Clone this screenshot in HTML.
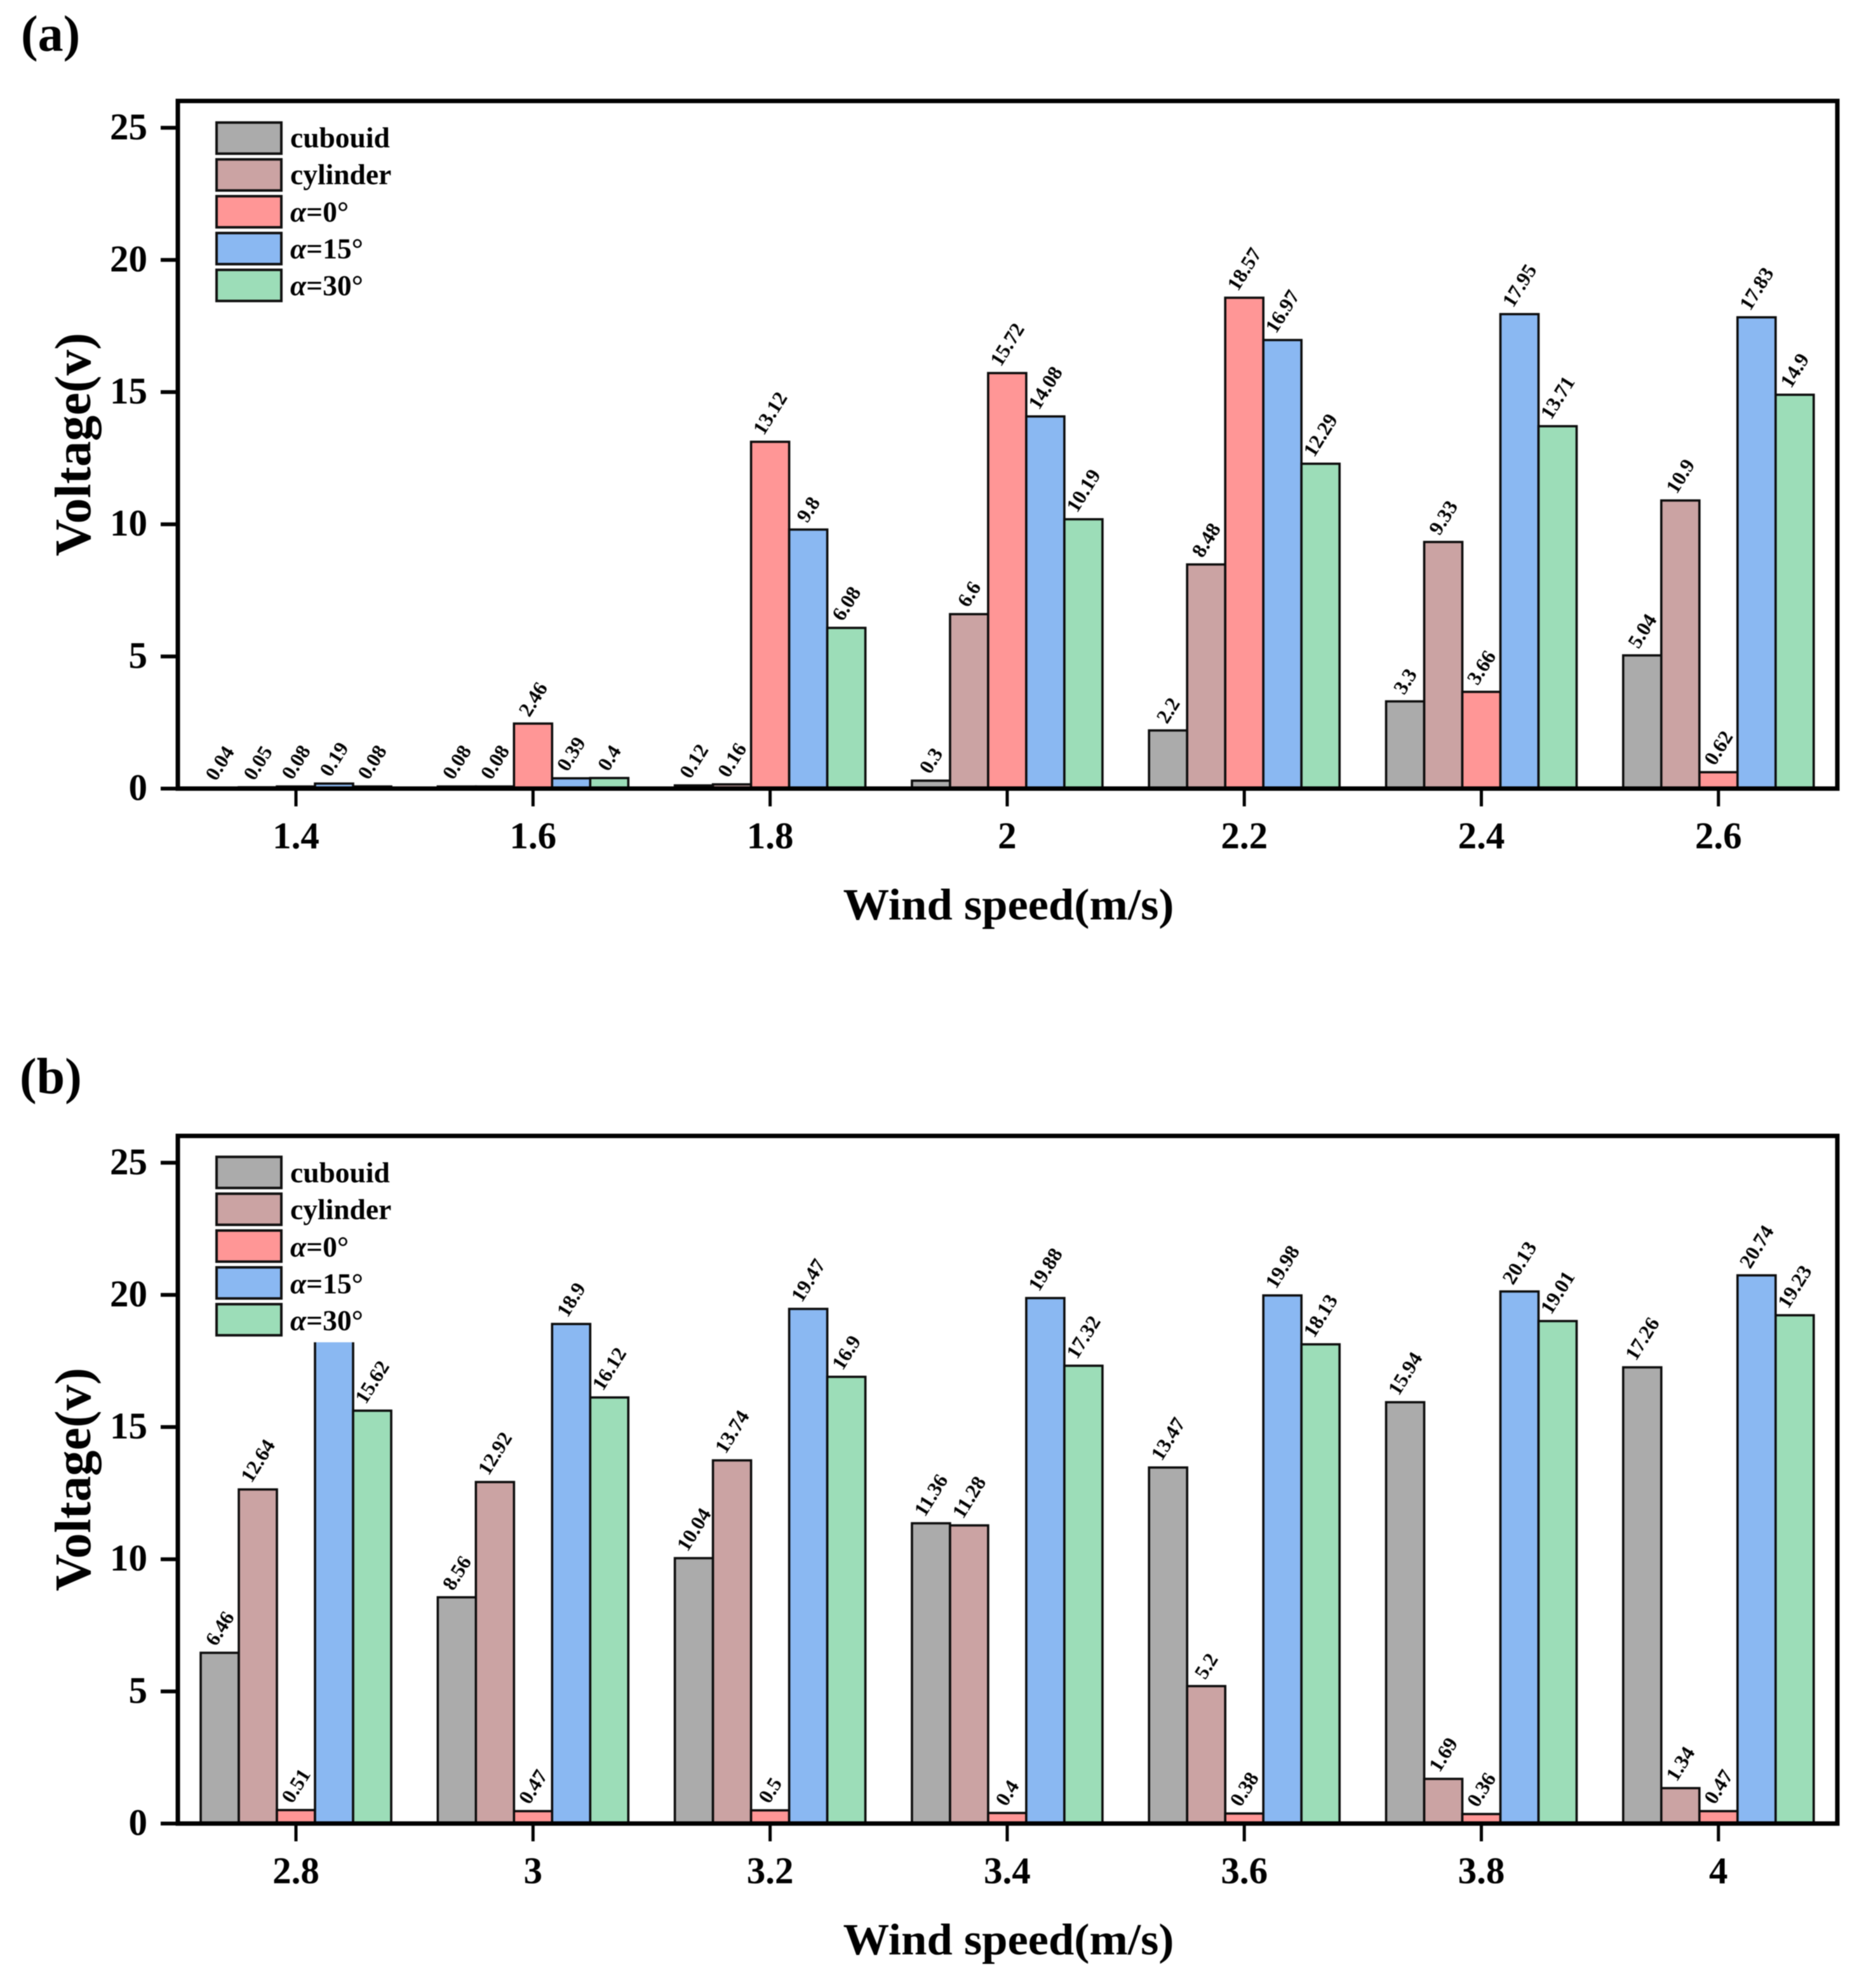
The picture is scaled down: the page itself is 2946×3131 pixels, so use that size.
<!DOCTYPE html>
<html lang="en">
<head>
<meta charset="utf-8">
<title>Voltage vs wind speed</title>
<style>
html,body{margin:0;padding:0;background:#fff;}
svg{display:block;filter:blur(0.7px);}
text{font-family:"Liberation Serif","Noto Serif CJK SC",serif;font-weight:bold;fill:#000;}
.lg{font-size:45.5px;}
.lgswatch{stroke:#111;stroke-width:4;}
.tick{font-size:59px;}
.val{font-size:32px;}
</style>
</head>
<body>
<svg xmlns="http://www.w3.org/2000/svg" width="2946" height="3131" viewBox="0 0 2946 3131">
  <rect x="0" y="0" width="2946" height="3131" fill="#fff"/>

  <!-- Panel A -->
  <g id="panel-a">
    <text x="33" y="80" font-size="80">(a)</text>
    <g id="marks-a"></g>
    <rect x="280" y="159" width="2613" height="1083" fill="none" stroke="#000" stroke-width="7"/>
    <g id="ticks-a"></g>
    <g>
      <g><rect class="lgswatch" x="341" y="193" width="102" height="49" fill="#ABABAB"/><text class="lg" x="457" y="232">cubouid</text></g>
      <g><rect class="lgswatch" x="341" y="251" width="102" height="49" fill="#CBA3A3"/><text class="lg" x="457" y="290">cylinder</text></g>
      <g><rect class="lgswatch" x="341" y="309" width="102" height="49" fill="#FF9696"/><text class="lg" x="457" y="349"><tspan font-style="italic">α</tspan>=0°</text></g>
      <g><rect class="lgswatch" x="341" y="367" width="102" height="49" fill="#8AB8F2"/><text class="lg" x="457" y="407"><tspan font-style="italic">α</tspan>=15°</text></g>
      <g><rect class="lgswatch" x="341" y="425" width="102" height="49" fill="#9CDDB8"/><text class="lg" x="457" y="465"><tspan font-style="italic">α</tspan>=30°</text></g>
    </g>
    <text x="1588" y="1448" font-size="70" text-anchor="middle" textLength="521" lengthAdjust="spacingAndGlyphs">Wind speed(m/s)</text>
    <text transform="translate(142,700) rotate(-90)" font-size="80" text-anchor="middle" textLength="352" lengthAdjust="spacingAndGlyphs">Voltage(v)</text>
  </g>

  <!-- Panel B -->
  <g id="panel-b">
    <text x="31" y="1722" font-size="80">(b)</text>
    <g id="marks-b"></g>
    <rect x="330" y="1810" width="300" height="304" fill="#fff"/>
    <rect x="280" y="1789" width="2613" height="1083" fill="none" stroke="#000" stroke-width="7"/>
    <g id="ticks-b"></g>
    <g>
      <g><rect class="lgswatch" x="341" y="1822" width="102" height="49" fill="#ABABAB"/><text class="lg" x="457" y="1862">cubouid</text></g>
      <g><rect class="lgswatch" x="341" y="1880" width="102" height="49" fill="#CBA3A3"/><text class="lg" x="457" y="1920">cylinder</text></g>
      <g><rect class="lgswatch" x="341" y="1938" width="102" height="49" fill="#FF9696"/><text class="lg" x="457" y="1979"><tspan font-style="italic">α</tspan>=0°</text></g>
      <g><rect class="lgswatch" x="341" y="1996" width="102" height="49" fill="#8AB8F2"/><text class="lg" x="457" y="2037"><tspan font-style="italic">α</tspan>=15°</text></g>
      <g><rect class="lgswatch" x="341" y="2054" width="102" height="49" fill="#9CDDB8"/><text class="lg" x="457" y="2095"><tspan font-style="italic">α</tspan>=30°</text></g>
    </g>
    <text x="1588" y="3078" font-size="70" text-anchor="middle" textLength="521" lengthAdjust="spacingAndGlyphs">Wind speed(m/s)</text>
    <text transform="translate(142,2330) rotate(-90)" font-size="80" text-anchor="middle" textLength="352" lengthAdjust="spacingAndGlyphs">Voltage(v)</text>
  </g>
</svg>

<script>
// ---- data ----
const yTickLabels = ["0", "5", "10", "15", "20", "25"];
const seriesNames = ["cubouid", "cylinder", "alpha-0", "alpha-15", "alpha-30"];
const seriesColors = ["#ABABAB", "#CBA3A3", "#FF9696", "#8AB8F2", "#9CDDB8"];

const categoriesA = ["1.4", "1.6", "1.8", "2", "2.2", "2.4", "2.6"];
const cubouidA = [0.04, 0.08, 0.12, 0.3, 2.2, 3.3, 5.04];
const cylinderA = [0.05, 0.08, 0.16, 6.6, 8.48, 9.33, 10.9];
const alpha0A = [0.08, 2.46, 13.12, 15.72, 18.57, 3.66, 0.62];
const alpha15A = [0.19, 0.39, 9.8, 14.08, 16.97, 17.95, 17.83];
const alpha30A = [0.08, 0.4, 6.08, 10.19, 12.29, 13.71, 14.9];

const categoriesB = ["2.8", "3", "3.2", "3.4", "3.6", "3.8", "4"];
const cubouidB = [6.46, 8.56, 10.04, 11.36, 13.47, 15.94, 17.26];
const cylinderB = [12.64, 12.92, 13.74, 11.28, 5.2, 1.69, 1.34];
const alpha0B = [0.51, 0.47, 0.5, 0.4, 0.38, 0.36, 0.47];
const alpha15B = [18.5, 18.9, 19.47, 19.88, 19.98, 20.13, 20.74];
const alpha30B = [15.62, 16.12, 16.9, 17.32, 18.13, 19.01, 19.23];

// ---- axis functions ----
const NS = "http://www.w3.org/2000/svg";
const X_FIRST = 466, X_STEP = 373.3, BAR_W = 60, UNIT = 41.63, LABEL_ANGLE = 58;

function xScale(i) { return X_FIRST + X_STEP * i; }
function yScale(v, baseY) { return baseY - UNIT * v; }

function make(tag, attrs, parent) {
  const el = document.createElementNS(NS, tag);
  for (const k in attrs) el.setAttribute(k, attrs[k]);
  parent.appendChild(el);
  return el;
}

function drawPanel(marksId, ticksId, baseY, categories, allSeries, hideLabel) {
  const marks = document.getElementById(marksId);
  const ticks = document.getElementById(ticksId);

  categories.forEach(function (cat, i) {
    const cx = xScale(i);
    allSeries.forEach(function (values, s) {
      const left = cx - 2.5 * BAR_W + s * BAR_W;
      const top = yScale(values[i], baseY);
      const bar = make("rect", {
        x: left, y: top, width: BAR_W, height: baseY - top,
        fill: seriesColors[s], stroke: "#0c0c0c", "stroke-width": 3.6
      }, marks);
      
      

      if (hideLabel && hideLabel[0] === s && hideLabel[1] === i) return;
      const label = make("text", { "class": "val" }, marks);
      
      
      label.textContent = String(values[i]);
      const len = label.getComputedTextLength();
      const a = LABEL_ANGLE * Math.PI / 180;
      const bx = left + BAR_W / 2 - Math.cos(a) * len / 2 + 9;
      const by = top - 9;
      label.setAttribute("transform", "translate(" + bx + "," + by + ") rotate(" + (-LABEL_ANGLE) + ")");
    });

    const tick = make("line", { x1: cx, x2: cx, y1: baseY, y2: baseY + 28, stroke: "#000", "stroke-width": 5 }, ticks);
    
    
    const tl = make("text", { "class": "tick", x: cx, y: baseY + 94, "text-anchor": "middle" }, ticks);
    
    
    tl.textContent = cat;
  });

  yTickLabels.forEach(function (lab) {
    const y = yScale(Number(lab), baseY);
    const tick = make("line", { x1: 253, x2: 280, y1: y, y2: y, stroke: "#000", "stroke-width": 6 }, ticks);
    
    
    const tl = make("text", { "class": "tick", x: 232, y: y + 18, "text-anchor": "end" }, ticks);
    
    
    tl.textContent = lab;
  });
}

drawPanel("marks-a", "ticks-a", 1242, categoriesA, [cubouidA, cylinderA, alpha0A, alpha15A, alpha30A], null);
drawPanel("marks-b", "ticks-b", 2872, categoriesB, [cubouidB, cylinderB, alpha0B, alpha15B, alpha30B], [3, 0]);
</script>
</body>
</html>
